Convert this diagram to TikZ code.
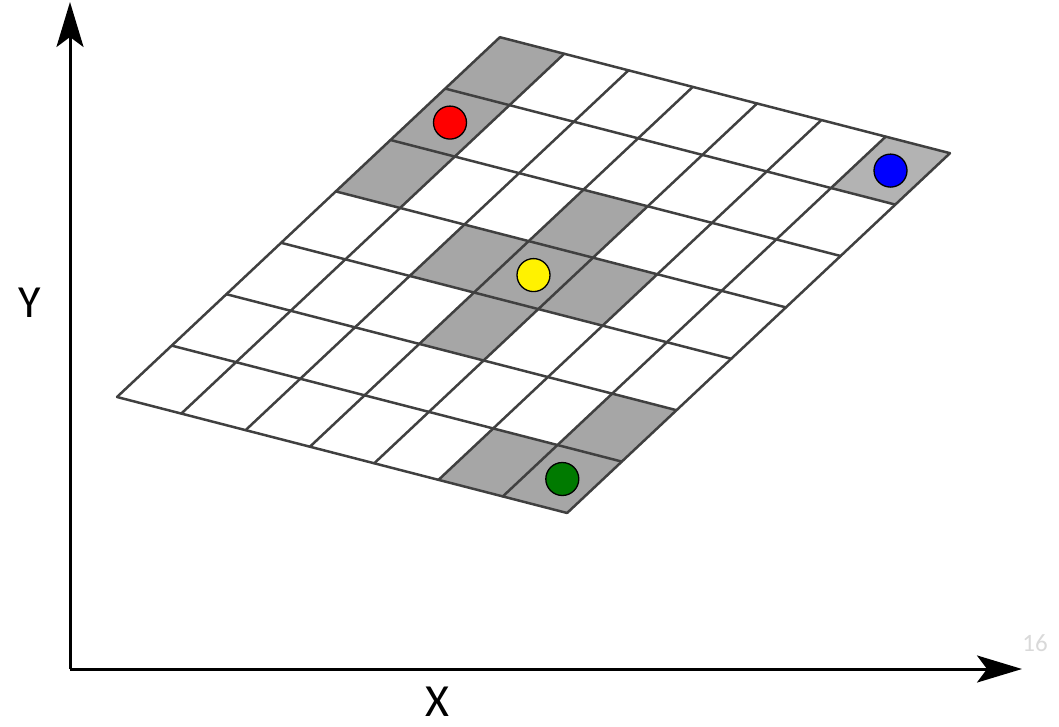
\documentclass[tikz,border=0pt]{standalone}
\usepackage{fontspec}
\setmainfont{Carlito}
\usetikzlibrary{arrows.meta}
\definecolor{cellgray}{HTML}{A6A6A6}
\definecolor{cellgraylight}{HTML}{B3B3B3}
\definecolor{gridline}{HTML}{404040}
\definecolor{dotgreen}{HTML}{007A00}
\definecolor{numgray}{HTML}{D9D9D9}
\begin{document}
\begin{tikzpicture}[x=1pt,y=1pt,
  axis/.style={line width=3pt,-{Stealth[length=45pt,width=27pt,inset=10pt]}},
  grid line/.style={draw=gridline,line width=2.5pt,line cap=round,line join=round},
  dot/.style={circle,draw=black,line width=1.3pt,minimum size=33pt,inner sep=0pt},
  axlabel/.style={font=\fontsize{46}{46}\selectfont,inner sep=0pt}]
\useasboundingbox (0,0) rectangle (1059,-727);
% axes
\coordinate (O) at (70,-669);
\coordinate (Ytop) at (70,-2);
\coordinate (Xend) at (1022,-669);
\draw[axis] (O) -- (Ytop);
\draw[axis] (O) -- (Xend);
\node[axlabel] (ylab) at (30,-303) {Y};
\node[axlabel] (xlab) at (437,-702) {X};
\node[font=\fontsize{25}{25}\selectfont,text=numgray,inner sep=0pt] (num) at (1035,-643) {16};
% grid
\begin{scope}[x={(64.3pt,-16.57pt)},y={(54.7pt,51.4pt)},shift={(117pt,-397pt)}]
  \foreach \i/\j in {0/4,0/5,0/6,3/3,2/3,4/3,3/4,3/2,6/0,5/0,6/1}
    \fill[cellgray] (\i,\j) -- ++(1,0) -- ++(0,1) -- ++(-1,0) -- cycle;
  \fill[cellgraylight] (6,6) -- ++(1,0) -- ++(0,1) -- ++(-1,0) -- cycle;
  \foreach \k in {0,...,7} {
    \draw[grid line] (\k,0) -- (\k,7);
    \draw[grid line] (0,\k) -- (7,\k);
  }
  \node[dot,fill=red] (red) at (0.5,5.5) {};
  \node[dot,fill=blue] (blue) at (6.5,6.5) {};
  \node[dot,fill=yellow] (yellow) at (3.5,3.5) {};
  \node[dot,fill=dotgreen] (green) at (6.5,0.5) {};
\end{scope}
\end{tikzpicture}
\end{document}
